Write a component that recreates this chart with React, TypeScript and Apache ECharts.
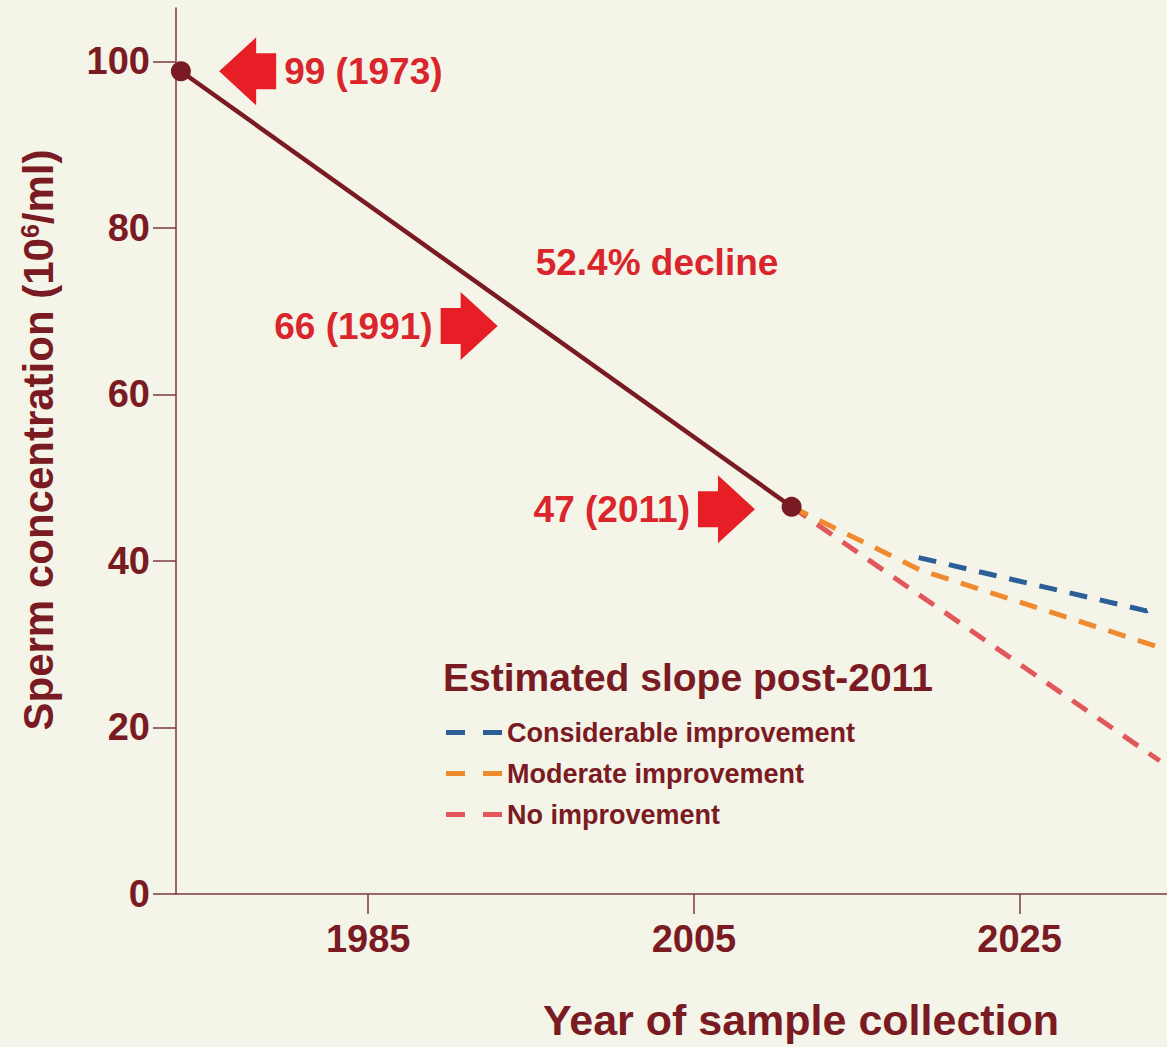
import React, { useEffect, useRef } from 'react';
import * as echarts from 'echarts';

// ---- data ----
const observedYears = [1973.5, 2011];
const observedValues = [98.8, 46.5];

const seriesNames = ['Considerable improvement', 'Moderate improvement', 'No improvement'];
const considerableYears = [2018.8, 2032.8, 2033.5];
const considerableValues = [40.4, 34.0, 34.8];
const moderateYears = [2011, 2018.9, 2033.8];
const moderateValues = [46.5, 38.9, 29.5];
const noImprovementYears = [2011, 2033.6];
const noImprovementValues = [46.5, 16.0];

const yTicks = [0, 20, 40, 60, 80, 100];
const xTicks = [1985, 2005, 2025];

const annotationLabels = ['99 (1973)', '66 (1991)', '47 (2011)'];
const annotationYears = [1977.6, 1991.2, 2007.0];
const annotationValues = [98.8, 68.2, 46.2];
const annotationDirections = ['left', 'right', 'right'];

const declineLabel = '52.4% decline';
const legendTitle = 'Estimated slope post-2011';
const yTitle = 'Sperm concentration (10{sup|6}/ml)';
const xTitle = 'Year of sample collection';

const zip = (xs: number[], ys: number[]) => xs.map((x, i) => [x, ys[i]]);

const FONT = 'Liberation Sans';
const DARK = '#7a1a22';
const AXIS = '#7d3a3c';
const RED_TEXT = '#d9252b';
const ARROW = '#e81e26';
const BLUE = '#2c5e98';
const ORANGE = '#f08a2e';
const PINK = '#e2575a';
const BG = '#f4f4e8';

const RIGHT_ARROW = 'path://M0,16L20,16L20,0L57,34L20,68L20,52L0,52Z';
const LEFT_ARROW = 'path://M57,16L37,16L37,0L0,34L37,68L37,52L57,52Z';

export default function App() {
  const ref = useRef<HTMLDivElement>(null);

  useEffect(() => {
    if (!ref.current) return;
    const chart = echarts.init(ref.current, null, { renderer: 'svg' });

    const dashed = (color: string) => ({
      color,
      width: 5,
      type: [18, 13] as any,
    });

    const annotations = annotationLabels.map((label, i) => ({
      coord: [annotationYears[i], annotationValues[i]],
      symbol: annotationDirections[i] === 'left' ? LEFT_ARROW : RIGHT_ARROW,
      symbolSize: [57, 68],
      itemStyle: { color: ARROW },
      label: {
        show: true,
        position: annotationDirections[i] === 'left' ? 'right' : 'left',
        distance: 8,
        formatter: label,
        color: RED_TEXT,
        fontSize: 37,
        fontWeight: 'bold',
        fontFamily: FONT,
      },
    }));

    const option: any = {
      animation: false,
      backgroundColor: BG,
      grid: { left: 176, right: 0, top: 8, bottom: 153, containLabel: false, outerBoundsMode: 'none' },
      xAxis: {
        type: 'value',
        min: 1973.2,
        max: 2034.05,
        axisLine: { show: true, lineStyle: { color: AXIS, width: 1.5 } },
        axisTick: { show: true, length: 20, customValues: xTicks, lineStyle: { color: AXIS, width: 1.5 } },
        axisLabel: {
          customValues: xTicks,
          formatter: (v: number) => String(v),
          margin: 26,
          color: DARK,
          fontSize: 38,
          fontWeight: 'bold',
          fontFamily: FONT,
        },
        splitLine: { show: false },
      },
      yAxis: {
        type: 'value',
        min: 0,
        max: 106.4,
        axisLine: { show: true, lineStyle: { color: AXIS, width: 1.5 } },
        axisTick: { show: true, length: 23, customValues: yTicks, lineStyle: { color: AXIS, width: 1.5 } },
        axisLabel: {
          customValues: yTicks,
          formatter: (v: number) => String(v),
          margin: 26,
          color: DARK,
          fontSize: 38,
          fontWeight: 'bold',
          fontFamily: FONT,
        },
        splitLine: { show: false },
      },
      legend: {
        data: seriesNames,
        orient: 'vertical',
        left: 441,
        top: 714,
        itemWidth: 56,
        itemHeight: 5,
        itemGap: 14,
        icon: 'path://M0,0H19V5H0Z M37,0H56V5H37Z',
        itemStyle: { borderWidth: 0 },
        selectedMode: false,
        textStyle: { color: DARK, fontSize: 27, fontWeight: 'bold', fontFamily: FONT, lineHeight: 27 },
      },
      graphic: [
        {
          type: 'text',
          x: 38,
          y: 440,
          rotation: Math.PI / 2,
          style: {
            text: yTitle,
            align: 'center',
            verticalAlign: 'middle',
            fill: DARK,
            fontSize: 42,
            fontWeight: 'bold',
            fontFamily: FONT,
            rich: {
              sup: { fontSize: 25, fontWeight: 'bold', fontFamily: FONT, fill: DARK, verticalAlign: 'top', lineHeight: 42 },
            },
          },
        },
        {
          type: 'text',
          x: 801,
          y: 1020,
          style: {
            text: xTitle,
            align: 'center',
            verticalAlign: 'middle',
            fill: DARK,
            fontSize: 43,
            fontWeight: 'bold',
            fontFamily: FONT,
          },
        },
        {
          type: 'text',
          x: 657,
          y: 262,
          style: {
            text: declineLabel,
            align: 'center',
            verticalAlign: 'middle',
            fill: RED_TEXT,
            fontSize: 37,
            fontWeight: 'bold',
            fontFamily: FONT,
          },
        },
        {
          type: 'text',
          x: 443,
          y: 677,
          style: {
            text: legendTitle,
            align: 'left',
            verticalAlign: 'middle',
            fill: DARK,
            fontSize: 39,
            fontWeight: 'bold',
            fontFamily: FONT,
          },
        },
      ],
      series: [
        {
          name: seriesNames[2],
          type: 'line',
          data: zip(noImprovementYears, noImprovementValues),
          showSymbol: false,
          symbol: 'none',
          color: PINK,
          lineStyle: dashed(PINK),
          z: 2,
        },
        {
          name: seriesNames[1],
          type: 'line',
          data: zip(moderateYears, moderateValues),
          showSymbol: false,
          symbol: 'none',
          color: ORANGE,
          lineStyle: dashed(ORANGE),
          z: 3,
        },
        {
          name: seriesNames[0],
          type: 'line',
          data: zip(considerableYears, considerableValues),
          showSymbol: false,
          symbol: 'none',
          color: BLUE,
          lineStyle: dashed(BLUE),
          z: 4,
        },
        {
          name: 'Observed',
          type: 'line',
          data: zip(observedYears, observedValues),
          symbol: 'circle',
          symbolSize: 20,
          color: DARK,
          itemStyle: { color: DARK },
          lineStyle: { color: DARK, width: 4.5 },
          z: 5,
          markPoint: {
            data: annotations,
            animation: false,
          },
        },
      ],
    };

    chart.setOption(option);
    return () => chart.dispose();
  }, []);

  return (
    <div
      ref={ref}
      style={{ position: 'fixed', left: 0, top: 0, width: 1167, height: 1047 }}
    />
  );
}
